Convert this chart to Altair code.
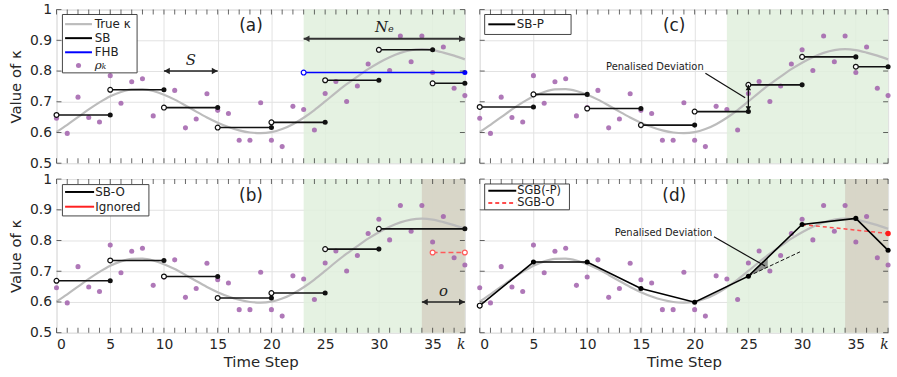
import altair as alt
import pandas as pd

# ---------------- data ----------------
steps = list(range(39))
rho = [0.646, 0.597, 0.715, 0.649, 0.634, 0.785, 0.695, 0.765, 0.775, 0.654,
       0.681, 0.737, 0.615, 0.644, 0.726, 0.672, 0.662, 0.575, 0.575, 0.697,
       0.575, 0.554, 0.685, 0.675, 0.608, 0.727, 0.766, 0.701, 0.751, 0.823,
       0.869, 0.802, 0.914, 0.830, 0.914, 0.795, 0.878, 0.744, 0.720]
true_kappa = [0.602, 0.625, 0.650, 0.675, 0.698, 0.718, 0.732, 0.740, 0.741, 0.735,
              0.723, 0.707, 0.688, 0.668, 0.649, 0.632, 0.618, 0.607, 0.600, 0.598,
              0.601, 0.611, 0.627, 0.648, 0.673, 0.701, 0.730, 0.757, 0.782, 0.806,
              0.827, 0.845, 0.859, 0.868, 0.871, 0.868, 0.860, 0.850, 0.838]

sb_start = [0, 5, 10, 15, 20, 25, 30, 35]
sb_end = [5, 10, 15, 20, 25, 30, 35, 38]
sb_val = [0.657, 0.739, 0.681, 0.616, 0.633, 0.770, 0.869, 0.760]

fhb_start = [23]
fhb_end = [38]
fhb_val = [0.795]

sbo_start = [0, 5, 10, 15, 20, 25, 30]
sbo_end = [5, 10, 15, 20, 25, 30, 38]
sbo_val = [0.669, 0.735, 0.683, 0.613, 0.629, 0.772, 0.838]
ignored_start = [35]
ignored_end = [38]
ignored_val = [0.761]

sbp_val = [0.683, 0.724, 0.678, 0.624, 0.668, 0.755, 0.846, 0.814]

sgb_t = [0, 5, 10, 15, 20, 25, 30, 35, 38]
sgb_v = [0.588, 0.730, 0.730, 0.644, 0.599, 0.684, 0.852, 0.872, 0.768]
sgbo_t = [30, 38]
sgbo_v = [0.852, 0.823]
tangent_t = [25, 29.8]
tangent_v = [0.684, 0.763]
dev_t = [25, 26.8]
dev_hi = [0.684, 0.744]
dev_lo = [0.684, 0.714]

x_major = [0, 5, 10, 15, 20, 25, 30, 35, 38]
y_major = [0.5, 0.6, 0.7, 0.8, 0.9, 1.0]

W, H = 412, 155
GREEN = "#e1f0dd"
TAN = "#d6d3c5"
GRAY = "#bcbcbc"
PURPLE = "#a160ab"
SANS = "DejaVu Sans"
SERIF = "DejaVu Serif"

# ---------------- helpers ----------------
def xaxis(bottom):
    if bottom:
        return alt.Axis(values=x_major, grid=True, gridColor="#e2e2e2", domain=False,
                        ticks=True, tickSize=0, labelFontSize=14, labelPadding=5,
                        labelColor="#262626",
                        labelExpr="datum.value == 38 ? 'k' : datum.label",
                        labelFont={"condition": {"test": "datum.value == 38", "value": SERIF}, "value": SANS},
                        labelFontStyle={"condition": {"test": "datum.value == 38", "value": "italic"}, "value": "normal"},
                        title="Time Step", titleFontSize=15, titleFontWeight="normal",
                        titleColor="#262626", titlePadding=3)
    return alt.Axis(values=x_major, grid=True, gridColor="#e2e2e2", domain=False,
                    ticks=False, labels=False, title=None)


def yaxis(left):
    if left:
        return alt.Axis(values=y_major, grid=True, gridColor="#e2e2e2", domain=False,
                        ticks=True, tickSize=0, labelFontSize=14, labelPadding=5,
                        labelColor="#262626",
                        labelExpr="datum.value == 1 ? '1' : format(datum.value, '.1f')",
                        title="Value of κ", titleFontSize=15, titleFontWeight="normal",
                        titleColor="#262626", titlePadding=6)
    return alt.Axis(values=y_major, grid=True, gridColor="#e2e2e2", domain=False,
                    ticks=False, labels=False, title=None)


def make_panel(letter, bottom, left, extra_layers, tan=False):
    xs = alt.Scale(domain=[0, 38], nice=False, zero=False)
    ys = alt.Scale(domain=[0.5, 1.0], nice=False, zero=False)

    def X(f):
        return alt.X(f, type="quantitative", scale=xs, axis=xaxis(bottom))

    def Y(f):
        return alt.Y(f, type="quantitative", scale=ys, axis=yaxis(left))

    layers = []
    bg = pd.DataFrame({"x": [23], "x2": [38], "y": [0.5], "y2": [1.0]})
    layers.append(alt.Chart(bg).mark_rect(color=GREEN, opacity=0.85).encode(
        x=X("x"), x2="x2", y=Y("y"), y2="y2"))
    if tan:
        bg2 = pd.DataFrame({"x": [34], "x2": [38], "y": [0.5], "y2": [1.0]})
        layers.append(alt.Chart(bg2).mark_rect(color=TAN, opacity=0.9).encode(
            x=X("x"), x2="x2", y=Y("y"), y2="y2"))
    curve = pd.DataFrame({"t": steps, "v": true_kappa})
    layers.append(alt.Chart(curve).mark_line(color=GRAY, strokeWidth=2.2, interpolate="monotone").encode(
        x=X("t"), y=Y("v")))
    dots = pd.DataFrame({"t": steps, "v": rho})
    layers.append(alt.Chart(dots).mark_circle(color=PURPLE, opacity=0.85, size=26).encode(
        x=X("t"), y=Y("v")))
    for lay in extra_layers:
        layers.append(lay(X, Y))
    # panel label
    lab = pd.DataFrame({"x": [18.1], "y": [0.946], "s": [letter]})
    layers.append(alt.Chart(lab).mark_text(fontSize=17, font=SANS, color="#222").encode(
        x=X("x"), y=Y("y"), text="s:N"))
    # inward ticks
    xt = pd.DataFrame({"t": steps})
    yt = pd.DataFrame({"v": y_major})
    layers.append(alt.Chart(xt).mark_tick(orient="vertical", size=5, thickness=1, color="#262626").encode(
        x=X("t"), y=alt.value(H - 2.5)))
    layers.append(alt.Chart(xt).mark_tick(orient="vertical", size=5, thickness=1, color="#262626").encode(
        x=X("t"), y=alt.value(2.5)))
    layers.append(alt.Chart(yt).mark_tick(orient="horizontal", size=5, thickness=1, color="#262626").encode(
        y=Y("v"), x=alt.value(2.5)))
    layers.append(alt.Chart(yt).mark_tick(orient="horizontal", size=5, thickness=1, color="#262626").encode(
        y=Y("v"), x=alt.value(W - 2.5)))
    return alt.layer(*layers).properties(width=W, height=H)


def seg_layers(starts, ends, vals, color, dash=None, open_end=False, width=1.6):
    def f(X, Y):
        df = pd.DataFrame({"x": starts, "x2": ends, "y": vals})
        kw = {"color": color, "strokeWidth": width}
        if dash:
            kw["strokeDash"] = dash
        r = alt.Chart(df).mark_rule(**kw).encode(x=X("x"), x2="x2", y=Y("y"))
        o = alt.Chart(df).mark_point(shape="circle", filled=True, fill="white", stroke=color,
                                     strokeWidth=1.2, size=24, opacity=1).encode(x=X("x"), y=Y("y"))
        if open_end:
            c = alt.Chart(df).mark_point(shape="circle", filled=True, fill="white", stroke=color,
                                         strokeWidth=1.2, size=24, opacity=1).encode(x=X("x2"), y=Y("y"))
        else:
            c = alt.Chart(df).mark_circle(color=color, size=26, opacity=1).encode(x=X("x2"), y=Y("y"))
        return alt.layer(r, o, c)
    return f


def text_layer(x, y, s, size=11, font=SANS, style="normal", align="center", color="#222"):
    def f(X, Y):
        df = pd.DataFrame({"x": [x], "y": [y], "s": [s]})
        return alt.Chart(df).mark_text(fontSize=size, font=font, fontStyle=style, align=align,
                                       baseline="middle", color=color).encode(
            x=X("x"), y=Y("y"), text="s:N")
    return f


def line_layer(x1, y1, x2, y2, color="#111", width=1.2, dash=None):
    def f(X, Y):
        df = pd.DataFrame({"x": [x1], "y": [y1], "x2": [x2], "y2": [y2]})
        kw = {"color": color, "strokeWidth": width}
        if dash:
            kw["strokeDash"] = dash
        return alt.Chart(df).mark_rule(**kw).encode(x=X("x"), y=Y("y"), x2="x2", y2="y2")
    return f


def harrow(x1, x2, y, color="#222", width=1.6):
    def f(X, Y):
        df = pd.DataFrame({"x": [x1], "x2": [x2], "y": [y]})
        r = alt.Chart(df).mark_rule(color=color, strokeWidth=width).encode(x=X("x"), x2="x2", y=Y("y"))
        hl = alt.Chart(df).mark_point(shape="triangle-left", filled=True, color=color, size=45,
                                      opacity=1, xOffset=3).encode(x=X("x"), y=Y("y"))
        hr = alt.Chart(df).mark_point(shape="triangle-right", filled=True, color=color, size=45,
                                      opacity=1, xOffset=-3).encode(x=X("x2"), y=Y("y"))
        return alt.layer(r, hl, hr)
    return f


def varrow(x, y1, y2, color="#111", width=1.3):
    def f(X, Y):
        df = pd.DataFrame({"x": [x], "y": [y1], "y2": [y2]})
        r = alt.Chart(df).mark_rule(color=color, strokeWidth=width).encode(x=X("x"), y=Y("y"), y2="y2")
        hb = alt.Chart(df).mark_point(shape="triangle-down", filled=True, color=color, size=30,
                                      opacity=1, yOffset=-3).encode(x=X("x"), y=Y("y"))
        ht = alt.Chart(df).mark_point(shape="triangle-up", filled=True, color=color, size=30,
                                      opacity=1, yOffset=3).encode(x=X("x"), y=Y("y2"))
        return alt.layer(r, hb, ht)
    return f


def legend(box, entries, fsize=12):
    # box = (x1, x2, y1, y2); entries = list of (kind, color, y, label, dash, lx1, lx2, tx)
    def f(X, Y):
        bdf = pd.DataFrame({"x": [box[0]], "x2": [box[1]], "y": [box[2]], "y2": [box[3]]})
        layers = [alt.Chart(bdf).mark_rect(fill="white", stroke="#444", strokeWidth=1).encode(
            x=X("x"), x2="x2", y=Y("y"), y2="y2")]
        for kind, color, y, label, dash, lx1, lx2, tx in entries:
            if kind == "line":
                df = pd.DataFrame({"x": [lx1], "x2": [lx2], "y": [y]})
                kw = {"color": color, "strokeWidth": 2 if color != GRAY else 2.2}
                if dash:
                    kw["strokeDash"] = dash
                layers.append(alt.Chart(df).mark_rule(**kw).encode(x=X("x"), x2="x2", y=Y("y")))
            else:
                df = pd.DataFrame({"x": [(lx1 + lx2) / 2], "y": [y]})
                layers.append(alt.Chart(df).mark_circle(color=color, size=26, opacity=0.85).encode(
                    x=X("x"), y=Y("y")))
            tdf = pd.DataFrame({"x": [tx], "y": [y], "s": [label]})
            italic = label == "ρₖ"
            layers.append(alt.Chart(tdf).mark_text(
                fontSize=fsize, font=SERIF if italic else SANS, fontStyle="italic" if italic else "normal",
                align="left", baseline="middle", color="#222").encode(x=X("x"), y=Y("y"), text="s:N"))
        return alt.layer(*layers)
    return f


# ---------------- panels ----------------
panel_a = make_panel("(a)", False, True, [
    harrow(10, 15, 0.8),
    text_layer(12.5, 0.835, "S", size=15, font=SERIF, style="italic"),
    harrow(23, 38, 0.905, color="#333", width=2),
    text_layer(30.5, 0.943, "Nₑ", size=15, font=SERIF, style="italic"),
    seg_layers(sb_start, sb_end, sb_val, "#111"),
    seg_layers(fhb_start, fhb_end, fhb_val, "#0000ff"),
    legend((0.55, 7.5, 0.794, 0.984), [
        ("line", GRAY, 0.9526, "True κ", None, 0.8, 3.3, 3.55),
        ("line", "#000", 0.907, "SB", None, 0.8, 3.3, 3.55),
        ("line", "#0000ff", 0.861, "FHB", None, 0.8, 3.3, 3.55),
        ("dot", PURPLE, 0.818, "ρₖ", None, 0.8, 3.3, 3.55),
    ], fsize=12),
])

panel_c = make_panel("(c)", False, False, [
    seg_layers(sb_start, sb_end, sbp_val, "#111"),
    varrow(25, 0.668, 0.755),
    line_layer(21.0, 0.793, 24.7, 0.713),
    text_layer(16.3, 0.813, "Penalised Deviation", size=10),
    legend((0.46, 8.5, 0.919, 0.984), [
        ("line", "#000", 0.952, "SB-P", None, 0.8, 3.3, 3.45),
    ], fsize=12),
])

panel_b = make_panel("(b)", True, True, [
    seg_layers(sbo_start, sbo_end, sbo_val, "#111"),
    seg_layers(ignored_start, ignored_end, ignored_val, "#ff5a5a", dash=[5, 3], open_end=True, width=1.3),
    harrow(34, 38, 0.6),
    text_layer(36.0, 0.635, "o", size=15, font=SERIF, style="italic"),
    legend((0.55, 8.6, 0.88, 0.982), [
        ("line", "#000", 0.958, "SB-O", None, 0.8, 3.5, 3.6),
        ("line", "#ff2020", 0.91, "Ignored", None, 0.8, 3.5, 3.6),
    ], fsize=12),
], tan=True)


def sgb_layers(X, Y):
    area_df = pd.DataFrame({"t": dev_t, "hi": dev_hi, "lo": dev_lo})
    area = alt.Chart(area_df).mark_area(color="#7a7a7a", opacity=0.8).encode(
        x=X("t"), y=Y("hi"), y2="lo")
    tan_df = pd.DataFrame({"t": tangent_t, "v": tangent_v})
    tang = alt.Chart(tan_df).mark_line(color="#111", strokeWidth=1, strokeDash=[4, 2]).encode(
        x=X("t"), y=Y("v"))
    o_df = pd.DataFrame({"t": sgbo_t, "v": sgbo_v})
    oline = alt.Chart(o_df).mark_line(color="#ff4d4d", strokeWidth=1.5, strokeDash=[4, 3]).encode(
        x=X("t"), y=Y("v"))
    odot = alt.Chart(o_df.iloc[[1]]).mark_circle(color="#ff1a1a", size=30, opacity=1).encode(
        x=X("t"), y=Y("v"))
    df = pd.DataFrame({"t": sgb_t, "v": sgb_v})
    line = alt.Chart(df).mark_line(color="#000", strokeWidth=1.6).encode(x=X("t"), y=Y("v"))
    pts = alt.Chart(df.iloc[1:]).mark_circle(color="#000", size=26, opacity=1).encode(x=X("t"), y=Y("v"))
    first = alt.Chart(df.iloc[[0]]).mark_point(shape="circle", filled=True, fill="white", stroke="#000",
                                              strokeWidth=1.2, size=24, opacity=1).encode(x=X("t"), y=Y("v"))
    return alt.layer(area, tang, oline, odot, line, pts, first)


panel_d = make_panel("(d)", True, False, [
    sgb_layers,
    line_layer(21.8, 0.812, 26.55, 0.717),
    text_layer(17.1, 0.823, "Penalised Deviation", size=10),
    legend((0.46, 8.35, 0.9, 0.984), [
        ("line", "#000", 0.962, "SGB(-P)", None, 0.8, 3.4, 3.5),
        ("line", "#ff4d4d", 0.922, "SGB-O", [4, 3], 0.8, 3.4, 3.5),
    ], fsize=11.5),
], tan=True)

chart = alt.concat(panel_a, panel_c, panel_b, panel_d, columns=2,
                   spacing={"row": 16, "column": 15}, bounds="flush").properties(
    padding={"left": 8, "top": 0, "right": 4, "bottom": 0}
).configure_view(stroke="#262626", strokeWidth=1).configure(font=SANS)

chart.save("out.html", embed_options={"renderer": "svg", "actions": False})
